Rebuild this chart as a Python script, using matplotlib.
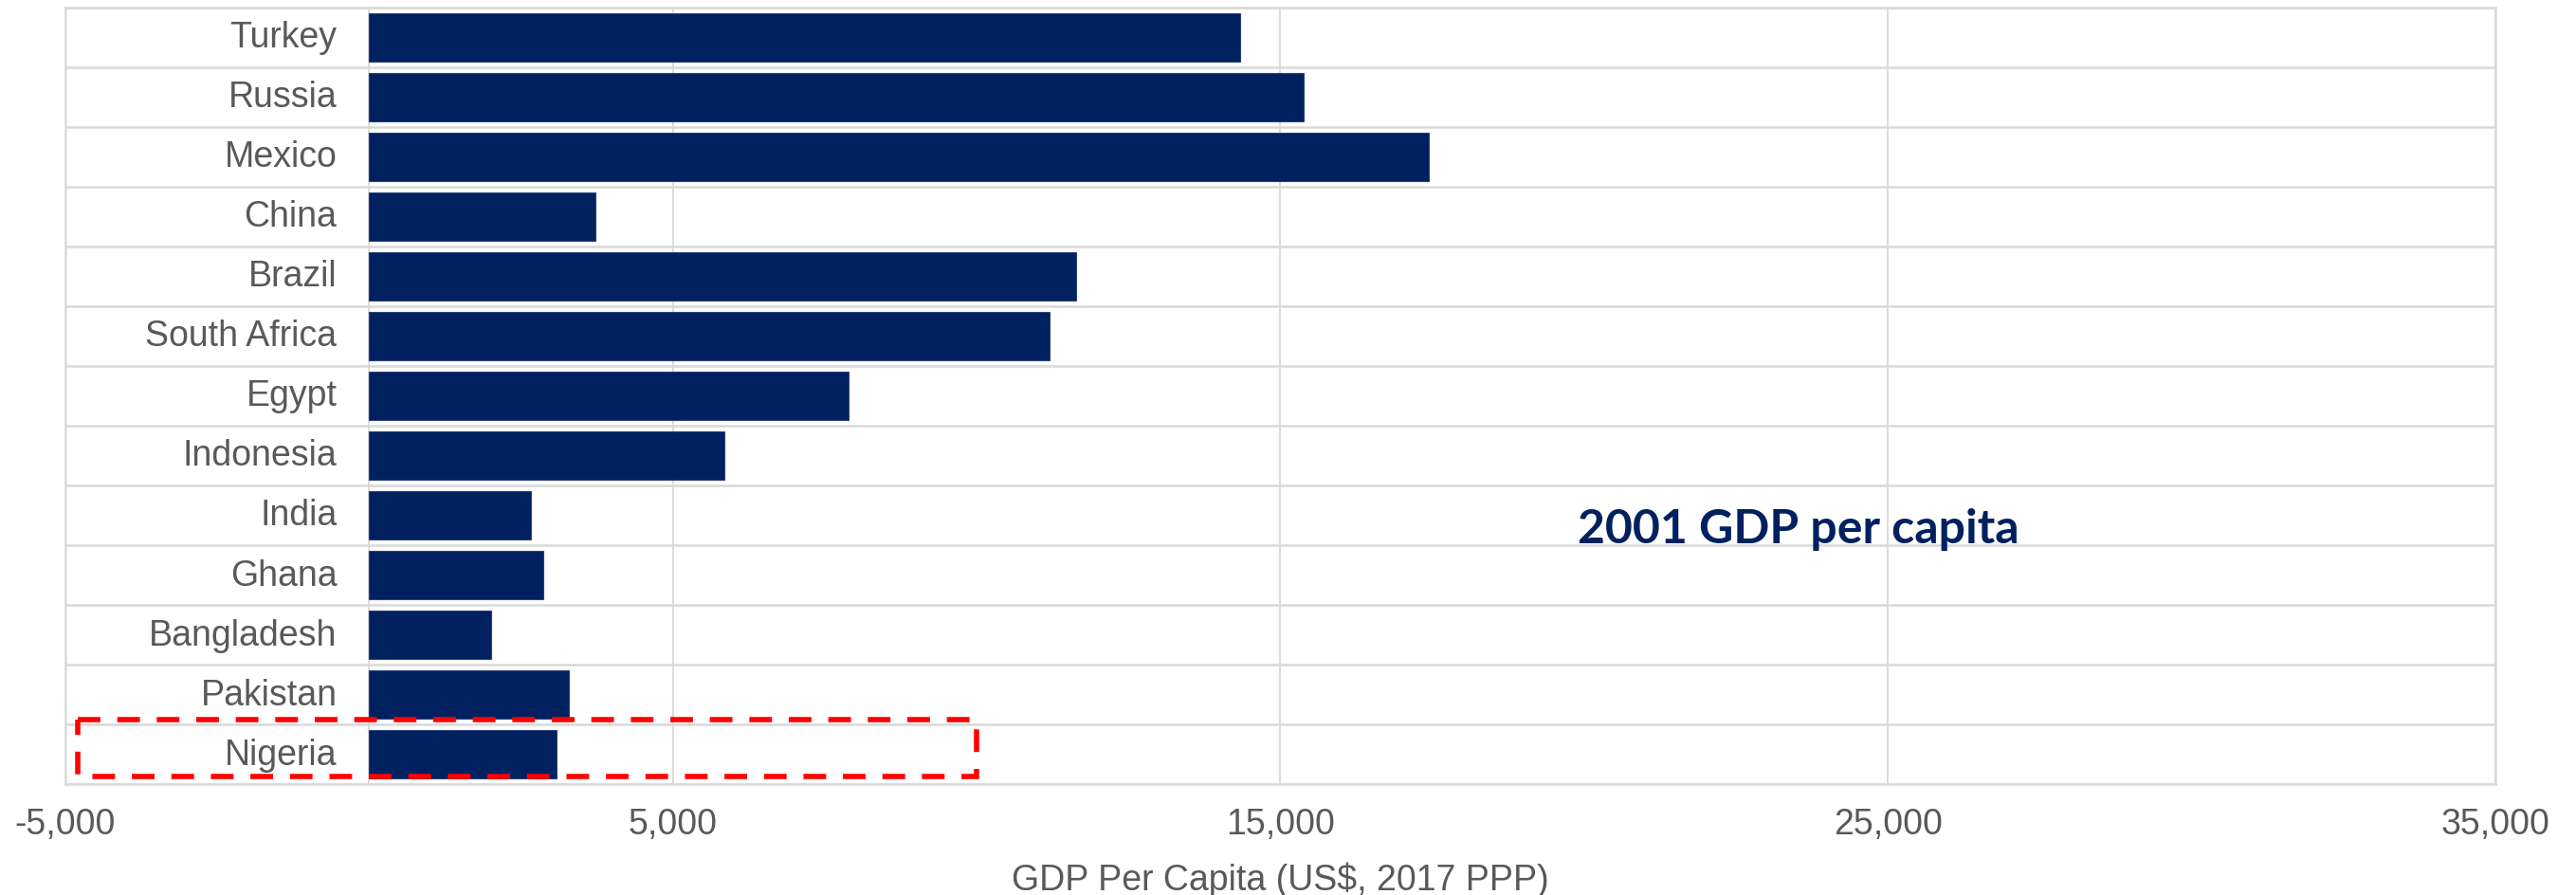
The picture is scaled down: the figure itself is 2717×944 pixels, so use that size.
import matplotlib
matplotlib.use('Agg')
import numpy as np
import matplotlib.pyplot as plt
from matplotlib.patches import Rectangle
from matplotlib.ticker import FuncFormatter

# 2001 GDP per capita, US$ 2017 PPP
countries = ['Turkey', 'Russia', 'Mexico', 'China', 'Brazil', 'South Africa', 'Egypt',
             'Indonesia', 'India', 'Ghana', 'Bangladesh', 'Pakistan', 'Nigeria']
gdp_2001 = [14340, 15390, 17450, 3730, 11630, 11200, 7890,
            5840, 2670, 2860, 2010, 3290, 3090]
x_ticks = [-5000, 5000, 15000, 25000, 35000]

navy = '#002060'
grey_text = '#595959'
grid_col = '#d9d9d9'

plt.rcParams['font.family'] = ['Liberation Sans', 'DejaVu Sans']

fig = plt.figure(figsize=(27.17, 9.45), dpi=100)
ax = fig.add_axes([0.0254, 0.1238, 0.9433, 0.8667])

y = np.arange(len(countries))
ax.barh(y, gdp_2001, height=0.8, color=navy, edgecolor='#2a4378', linewidth=0.8, zorder=3)

ax.set_xlim(-5000, 35000)
ax.set_ylim(len(countries) - 0.5, -0.5)

# vertical grid at the major ticks, horizontal separators between rows
ax.set_xticks(x_ticks)
ax.xaxis.set_major_formatter(FuncFormatter(lambda v, p: f'{v:,.0f}'))
ax.set_yticks([])
ax.set_yticks(np.arange(len(countries) + 1) - 0.5, minor=True)
ax.grid(axis='x', which='major', color=grid_col, linewidth=1.3, zorder=0)
ax.grid(axis='y', which='minor', color=grid_col, linewidth=1.8, zorder=0)
ax.axvline(0, color=grid_col, linewidth=1.3, zorder=1)

ax.tick_params(axis='x', length=0, pad=17, labelsize=27, labelcolor=grey_text)
ax.tick_params(axis='y', which='both', length=0)
for s in ax.spines.values():
    s.set_color(grid_col)
    s.set_linewidth(1.8)

# country names sit inside the plot, left of the zero line
for yi, name in zip(y, countries):
    ax.text(-530, yi, name, ha='right', va='center', fontsize=27, color=grey_text)

ax.set_xlabel('GDP Per Capita (US$, 2017 PPP)', fontsize=27, color=grey_text, labelpad=16)

ax.text(23520, 8.45, '2001 GDP per capita', ha='center', va='baseline',
        fontsize=36, fontweight='bold', color=navy, family=['Lato', 'DejaVu Sans'])

# highlight box around Nigeria
nig = countries.index('Nigeria')
box = Rectangle((-4800, nig - 0.58), 14800, 0.96, fill=False, edgecolor='#ff0000',
                linewidth=4, linestyle=(0, (4.3, 3.2)), zorder=5, clip_on=False)
ax.add_patch(box)

fig.savefig('out.png', dpi=100)
